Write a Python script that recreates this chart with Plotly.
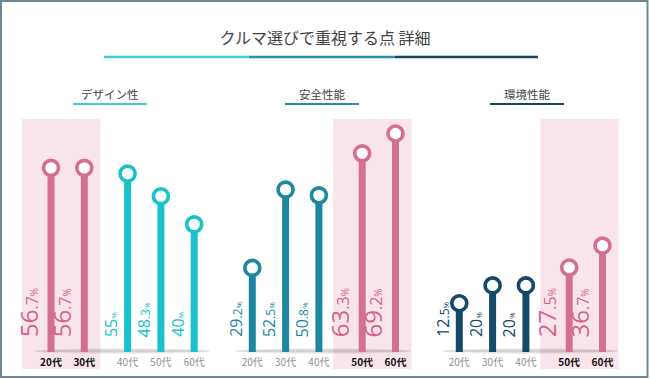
import plotly.graph_objects as go

# ---------------- data ----------------
title_text = "クルマ選びで重視する点 詳細"
panel_titles = ["デザイン性", "安全性能", "環境性能"]
age_labels = ["20代", "30代", "40代", "50代", "60代"]
design_values = [56.7, 56.7, 55.0, 48.3, 40.0]
safety_values = [29.2, 52.5, 50.8, 63.3, 69.2]
eco_values = [12.5, 20.0, 20.0, 27.5, 36.7]
design_highlight = [1, 1, 0, 0, 0]
safety_highlight = [0, 0, 0, 1, 1]
eco_highlight = [0, 0, 0, 1, 1]

# ---------------- style ----------------
W, H = 650, 379
PINK = "#d4708f"
PINK_TXT = "#d9628b"
BAND = "#f8e5ec"
panel_colors = ["#17c2ca", "#1d87a0", "#134a67"]
line_colors = ["#3dcdd3", "#2a8fa6", "#17455f"]
y_ranges = [[2.27, 73.8], [4.17, 76.2], [-7.98, 93.7]]
x_px0 = [51.0, 252.3, 459.3]       # pixel of first bar in each panel
UNIT = 33.3                          # px per x unit
X_RANGE = [-1.15, 4.85]
title_centers = [110, 322, 527]
FONT_JP = "Noto Sans CJK JP"
FONT_NUM = "Open Sans"


def xp(px):
    return px / W


def yp(px):
    return 1 - px / H


panels = [
    (design_values, design_highlight),
    (safety_values, safety_highlight),
    (eco_values, eco_highlight),
]

fig = go.Figure()
shapes = []
annotations = []
layout_axes = {}

y_dom = [yp(352), yp(110)]

for k, (vals, hl) in enumerate(panels):
    sfx = "" if k == 0 else str(k + 1)
    xa, ya = "x" + sfx, "y" + sfx
    split = next(i for i in range(1, len(hl)) if hl[i] != hl[i - 1])
    pos = [i + (0.3 if i >= split else 0.0) for i in range(len(vals))]
    vb = y_ranges[k][0]
    cols = [PINK if h else panel_colors[k] for h in hl]
    tcols = [PINK_TXT if h else panel_colors[k] for h in hl]

    left = x_px0[k] + X_RANGE[0] * UNIT
    right = x_px0[k] + X_RANGE[1] * UNIT
    layout_axes["xaxis" + sfx] = dict(
        domain=[xp(left), xp(right)], range=X_RANGE, anchor=ya,
        showgrid=False, zeroline=False, showline=False, ticks="",
        ticklabelstandoff=3,
        tickvals=pos,
        ticktext=[
            ("<b><span style='color:#111'>%s</span></b>" % a) if h
            else ("<span style='color:#8f8f8f'>%s</span>" % a)
            for a, h in zip(age_labels, hl)
        ],
        tickfont=dict(family=FONT_JP, size=10),
        fixedrange=True,
    )
    layout_axes["yaxis" + sfx] = dict(
        domain=y_dom, range=y_ranges[k], anchor=xa, visible=False,
        fixedrange=True,
    )

    hpos = [p for p, h in zip(pos, hl) if h]
    shapes.append(dict(
        type="rect", xref=xa, yref="paper", layer="below",
        x0=min(hpos) - 0.87, x1=max(hpos) + 0.48,
        y0=yp(369), y1=yp(119), fillcolor=BAND, line=dict(width=0),
    ))
    for hh, op in [(6, 0.06), (3, 0.12)]:
        shapes.append(dict(
            type="circle", xref=xa, yref="paper", layer="below",
            x0=pos[0] - 0.5, x1=pos[-1] + 0.48,
            ysizemode="pixel", yanchor=yp(351), y0=-hh / 2, y1=hh / 2,
            fillcolor="rgba(0,0,0,%s)" % op, line=dict(width=0),
        ))

    fig.add_trace(go.Bar(
        x=pos, y=[v - vb for v in vals], base=vb, width=0.21,
        marker=dict(color=cols, line=dict(width=0)),
        xaxis=xa, yaxis=ya, hoverinfo="skip",
    ))
    fig.add_trace(go.Scatter(
        x=pos, y=vals, mode="markers", xaxis=xa, yaxis=ya,
        marker=dict(size=15, color="white", line=dict(width=3.6, color=cols)),
        hoverinfo="skip",
    ))

    for p, v, h, tc in zip(pos, vals, hl, tcols):
        s = ("%.1f" % v).rstrip("0").rstrip(".")
        ip, _, dp = s.partition(".")
        big, mid, sm = (24, 16, 10) if h else (16, 12, 8)
        txt = "<span style='font-size:%dpx'>%s</span>" % (big, ip)
        if dp:
            txt += "<span style='font-size:%dpx'>.%s</span>" % (mid, dp)
        txt += "<span style='font-size:%dpx'>%%</span>" % sm
        annotations.append(dict(
            xref=xa, yref=ya, x=p, y=vb, text=txt, showarrow=False,
            textangle=-90, xanchor="right", yanchor="bottom",
            xshift=-4, yshift=13,
            font=dict(family=FONT_NUM, color=tc, size=big),
        ))

    annotations.append(dict(
        xref="paper", yref="paper", x=xp(title_centers[k]), y=yp(94),
        text=panel_titles[k], showarrow=False, xanchor="center",
        yanchor="middle", font=dict(family=FONT_JP, size=11.5, color="#444"),
    ))
    shapes.append(dict(
        type="line", xref="paper", yref="paper",
        x0=xp(title_centers[k] - 37), x1=xp(title_centers[k] + 37),
        y0=yp(104), y1=yp(104), line=dict(color=line_colors[k], width=2),
    ))

seg = [104, 249, 395, 538]
for k in range(3):
    shapes.append(dict(
        type="line", xref="paper", yref="paper",
        x0=xp(seg[k]), x1=xp(seg[k + 1]), y0=yp(57), y1=yp(57),
        line=dict(color=line_colors[k], width=2.5),
    ))

shapes.append(dict(
    type="rect", xref="paper", yref="paper",
    x0=xp(1), x1=xp(647.5), y0=yp(377), y1=yp(1),
    line=dict(color="#6a8797", width=2), fillcolor="rgba(0,0,0,0)",
))

fig.update_layout(
    width=W, height=H,
    margin=dict(l=0, r=0, t=0, b=0),
    paper_bgcolor="white", plot_bgcolor="rgba(0,0,0,0)",
    showlegend=False, barmode="overlay",
    title=dict(text=title_text, x=0.5, xanchor="center",
               y=yp(38), yanchor="middle", yref="container",
               font=dict(family=FONT_JP, size=16, color="#444")),
    shapes=shapes, annotations=annotations,
    **layout_axes,
)

fig.write_html(
    "out.html",
    config={"displayModeBar": False},
    post_script="document.body.style.margin='0px';document.body.style.overflow='hidden';",
)
